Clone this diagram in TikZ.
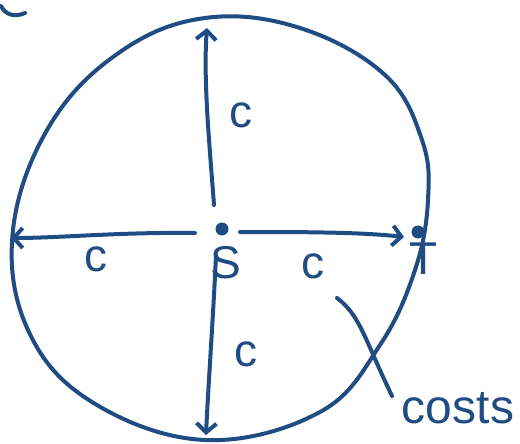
\documentclass[tikz,border=0pt]{standalone}
\usepackage{fontspec}
\setmainfont{Liberation Sans}
\usetikzlibrary{arrows.meta}
\definecolor{ink}{RGB}{32,76,132}
\begin{document}
\begin{tikzpicture}[x=1pt,y=-1pt,
  pen/.style={draw=ink,line width=4pt,line cap=round,line join=round},
  arr/.style={pen,-{Straight Barb[length=9pt,width=20pt,line width=4pt]}},
  dot/.style={circle,fill=ink,inner sep=0pt,minimum size=13pt},
  lbl/.style={text=ink,font=\fontsize{46}{46}\selectfont,inner sep=0pt},
  big/.style={text=ink,font=\fontsize{48}{48}\selectfont,inner sep=0pt}]
\useasboundingbox (0,0) rectangle (520,444);
% outer closed curve
\draw[pen] plot[smooth cycle,tension=0.65] coordinates {
  (205,18) (120,52) (50,125) (13,230) (28,330) (92,402) (205,440)
  (320,412) (380,345) (415,270) (428,200) (422,140) (385,75) (300,28)};
% top-left fragment
\draw[pen] (1,6) .. controls (6,16) and (16,17) .. (25,13);
% nodes
\node[dot] (S) at (222,229) {};
\node[dot] (T) at (418,232) {};
\coordinate (sr) at (240,232);
\coordinate (tl) at (404,237);
\coordinate (sl) at (195,233);
\coordinate (su) at (214,205);
\coordinate (sd) at (216,256);
\coordinate (top) at (207,28);
\coordinate (left) at (11,238);
\coordinate (bot) at (206,435);
\coordinate (ptA) at (337,298);
\coordinate (ptB) at (392,396);
% arrows
\draw[arr] (sr) .. controls (300,232) and (360,232) .. (tl);
\draw[arr] (sl) .. controls (120,232) and (60,238) .. (left);
\draw[arr] (su) .. controls (210,150) and (203,80) .. (top);
\draw[arr] (sd) .. controls (213,320) and (208,390) .. (bot);
% pointer
\draw[pen] (ptA) .. controls (360,315) and (365,340) .. (ptB);
% labels
\node[lbl] (c1) at (241,115) {c};
\node[lbl] (c2) at (96,259) {c};
\node[lbl] (c3) at (313,266) {c};
\node[lbl] (c4) at (246,354) {c};
\node[lbl] (slab) at (226,263) {S};
\node[lbl] (tlab) at (424,259) {T};
\node[big] (costs) at (458,408) {costs};
\end{tikzpicture}
\end{document}
